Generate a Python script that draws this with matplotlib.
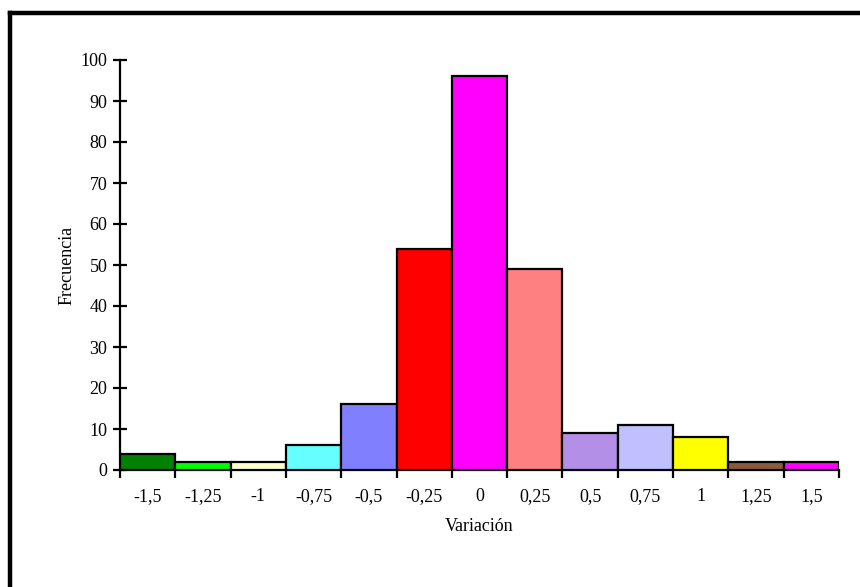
import numpy as np
import matplotlib.pyplot as plt
from matplotlib.lines import Line2D

# datos del histograma
categorias = ['-1,5', '-1,25', '-1', '-0,75', '-0,5', '-0,25', '0',
              '0,25', '0,5', '0,75', '1', '1,25', '1,5']
frecuencias = [4, 2, 2, 6, 16, 54, 96, 49, 9, 11, 8, 2, 2]
colores = ['#008000', '#00FF00', '#FFFFCC', '#66FFFF', '#8080FF', '#FF0000',
           '#FF00FF', '#FF8080', '#B38FE8', '#C0C0FF', '#FFFF00', '#8B5A3C',
           '#FF00FF']

plt.rcParams['font.family'] = ['Liberation Serif', 'DejaVu Serif']

fig = plt.figure(figsize=(8.6, 5.87), dpi=100)
ax = fig.add_axes([120 / 860, 1 - 470 / 587, 719 / 860, 410 / 587])

x = np.arange(len(categorias))
ax.bar(x, frecuencias, width=1.0, color=colores, edgecolor='black',
       linewidth=1.6, zorder=3)

ax.set_xlim(-0.5, len(categorias) - 0.5)
ax.set_ylim(0, 100)
ax.set_yticks(range(0, 101, 10))
ax.set_xticks(x)
ax.set_xticklabels(categorias)
ax.set_xticks(np.arange(-0.5, len(categorias), 1.0), minor=True)

for s in ['top', 'right']:
    ax.spines[s].set_visible(False)
for s in ['left', 'bottom']:
    ax.spines[s].set_linewidth(1.6)

ax.tick_params(axis='x', which='major', length=0, pad=13, labelsize=13)
ax.tick_params(axis='x', which='minor', direction='out', length=6, width=1.6)
ax.tick_params(axis='y', direction='inout', length=10, width=1.6, pad=4,
               labelsize=13)

ax.set_ylabel('Frecuencia', fontsize=13, labelpad=4)
ax.set_xlabel('Variación', fontsize=13, labelpad=9)

# marco de la figura (solo arriba e izquierda)
fig.add_artist(Line2D([10 / 860, 1], [1 - 13 / 587, 1 - 13 / 587],
                      transform=fig.transFigure, color='black', linewidth=3.2))
fig.add_artist(Line2D([10 / 860, 10 / 860], [0, 1 - 13 / 587],
                      transform=fig.transFigure, color='black', linewidth=3.2))

fig.savefig('out.png', dpi=100)
